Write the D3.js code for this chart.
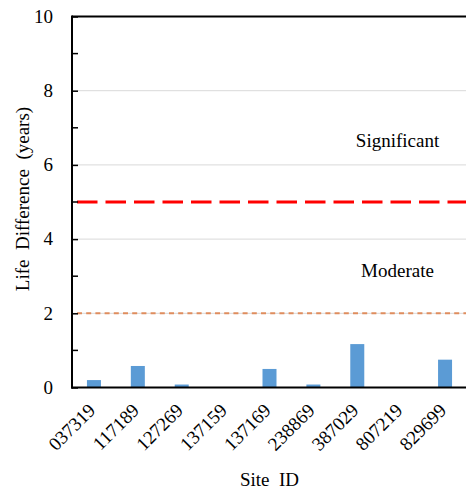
<!DOCTYPE html>
<html>
<head>
<meta charset="utf-8">
<script src="https://cdn.jsdelivr.net/npm/d3@7"></script>
</head>
<body style="margin:0;padding:0;background:#fff">
<svg id="chart" width="466" height="492" style="display:block"></svg>
<script>
// Site identifiers and the life difference (years) for each site
const sites = ["037319", "117189", "127269", "137159", "137169", "238869", "387029", "807219", "829699"];
const lifeDiff = [0.2, 0.58, 0.08, 0, 0.5, 0.08, 1.17, 0, 0.75];

// Axis ticks
const majorTicks = [0, 2, 4, 6, 8, 10];
const minorTicks = [1, 3, 5, 7, 9];

// Threshold lines and zone labels
const thresholds = [
  { value: 5, color: "#ff0000", width: 3, dash: "20.5,8" },
  { value: 2, color: "#df8d5e", width: 2, dash: "5,4.2" }
];
const zoneLabels = [
  { text: "Significant", value: 6.49 },
  { text: "Moderate", value: 2.97 }
];

// Axis titles (wide word spacing kept with no-break spaces)
const xTitle = "Site\u00a0\u00a0ID";
const yTitle = "Life\u00a0\u00a0Difference\u00a0\u00a0(years)";

const svg = d3.select("#chart");
const plotLeft = 72, plotRight = 467, plotTop = 16.5, plotBottom = 387.5;

const x = d3.scaleBand().domain(sites).range([plotLeft, plotRight]).paddingInner(0).paddingOuter(0);
const y = d3.scaleLinear().domain([0, 10]).range([plotBottom, plotTop]);
const barW = 14;

// Text is set at 24px and scaled down to an effective 19px
const BASE_SIZE = 24, TEXT_SCALE = 19 / 24;
function label(sel, place) {
  return sel
    .style("font-family", "Liberation Serif")
    .attr("font-size", BASE_SIZE)
    .attr("fill", "#000")
    .attr("transform", (d, i) => {
      const p = place(d, i);
      return `translate(${p[0]},${p[1]})` + (p[2] ? ` rotate(${p[2]})` : "") + ` scale(${TEXT_SCALE})`;
    });
}

// Horizontal gridlines
svg.append("g").selectAll("line")
  .data(majorTicks.filter(d => d > 0 && d < 10))
  .join("line")
  .attr("x1", plotLeft).attr("x2", plotRight)
  .attr("y1", d => y(d)).attr("y2", d => y(d))
  .attr("stroke", "#d9d9d9").attr("stroke-width", 1);

// Top boundary at the maximum
svg.append("line")
  .attr("x1", plotLeft).attr("x2", plotRight)
  .attr("y1", y(10)).attr("y2", y(10))
  .attr("stroke", "#000").attr("stroke-width", 2);

// Threshold lines
svg.append("g").selectAll("line")
  .data(thresholds)
  .join("line")
  .attr("x1", plotLeft + 5).attr("x2", plotRight)
  .attr("y1", d => y(d.value)).attr("y2", d => y(d.value))
  .attr("stroke", d => d.color)
  .attr("stroke-width", d => d.width)
  .attr("stroke-dasharray", d => d.dash);

// Bars
svg.append("g").selectAll("rect")
  .data(sites.map((s, i) => ({ site: s, v: lifeDiff[i] })))
  .join("rect")
  .attr("x", d => x(d.site) + x.bandwidth() / 2 - barW / 2)
  .attr("width", barW)
  .attr("y", d => y(d.v))
  .attr("height", d => y(0) - y(d.v))
  .attr("fill", "#5b9bd5");

// Y axis with inward ticks
const yAxis = svg.append("g").attr("transform", `translate(${plotLeft},0)`)
  .call(d3.axisRight(y).tickValues(majorTicks).tickSize(6).tickFormat(""));
yAxis.select(".domain").remove();
yAxis.selectAll(".tick line").attr("stroke", "#000").attr("stroke-width", 1.5);
svg.append("g").selectAll("line")
  .data(minorTicks)
  .join("line")
  .attr("x1", plotLeft).attr("x2", plotLeft + 6)
  .attr("y1", d => y(d)).attr("y2", d => y(d))
  .attr("stroke", "#000").attr("stroke-width", 1.5);
svg.append("line")
  .attr("x1", plotLeft).attr("x2", plotLeft)
  .attr("y1", y(10) - 1).attr("y2", y(0) + 1)
  .attr("stroke", "#000").attr("stroke-width", 2);

// Y tick labels
svg.append("g").selectAll("text")
  .data(majorTicks)
  .join("text")
  .call(label, d => [53, y(d)])
  .attr("dy", "0.33em")
  .attr("text-anchor", "end")
  .text(d => d);

// X axis baseline
svg.append("line")
  .attr("x1", plotLeft - 1).attr("x2", plotRight)
  .attr("y1", y(0)).attr("y2", y(0))
  .attr("stroke", "#000").attr("stroke-width", 2);

// Rotated site labels
svg.append("g").selectAll("text")
  .data(sites)
  .join("text")
  .call(label, d => [x(d) + x.bandwidth() / 2 + 2.5, 411.5, -45])
  .attr("text-anchor", "end")
  .text(d => d);

// Zone labels
svg.append("g").selectAll("text")
  .data(zoneLabels)
  .join("text")
  .call(label, d => [397.5, y(d.value)])
  .attr("text-anchor", "middle")
  .text(d => d.text);

// Axis titles
svg.append("text")
  .datum(xTitle)
  .call(label, () => [(plotLeft + plotRight) / 2, 486])
  .attr("text-anchor", "middle")
  .text(d => d);

svg.append("text")
  .datum(yTitle)
  .call(label, () => [28.5, (plotTop + plotBottom) / 2 - 3, -90])
  .attr("text-anchor", "middle")
  .text(d => d);
</script>
</body>
</html>
